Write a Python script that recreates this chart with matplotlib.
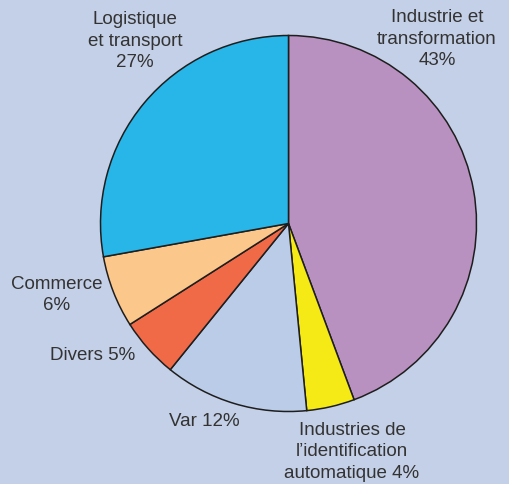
import matplotlib.pyplot as plt

# parts (in %), clockwise from the top
secteurs = ['Industrie et transformation', "Industries de l'identification automatique",
            'Var', 'Divers', 'Commerce', 'Logistique et transport']
parts = [43, 4, 12, 5, 6, 27]
couleurs = ['#b991c1', '#f5ea16', '#bbcce8', '#f06a48', '#fcc78a', '#28b6e9']

etiquettes = ['Industrie et\ntransformation\n43%',
              "Industries de\nl\u2019identification\nautomatique 4%",
              'Var 12%', 'Divers 5%', 'Commerce\n6%',
              'Logistique\net transport\n27%']
# label centres in pixels (from the top left)
pos_etiq = [(437, 39), (352, 452), (204, 421), (93, 355), (57, 295), (135, 41)]

fond = '#c4d0e7'
W, H = 509, 484

fig = plt.figure(figsize=(W / 100, H / 100), dpi=100, facecolor=fond)
ax = fig.add_axes([0, 0, 1, 1])
ax.set_facecolor(fond)

ax.pie(parts, colors=couleurs, startangle=90, counterclock=False,
       center=(288.5, H - 223.5), radius=188,
       wedgeprops=dict(edgecolor='#1e1e1e', linewidth=1.1))

for txt, (x, y) in zip(etiquettes, pos_etiq):
    ax.text(x, H - y, txt, ha='center', va='center', fontsize=13.5,
            family='Liberation Sans', color='#333333', linespacing=1.32)

ax.set_xlim(0, W)
ax.set_ylim(0, H)
ax.set_aspect('equal')
ax.axis('off')

fig.savefig('out.png', dpi=100, facecolor=fond)
